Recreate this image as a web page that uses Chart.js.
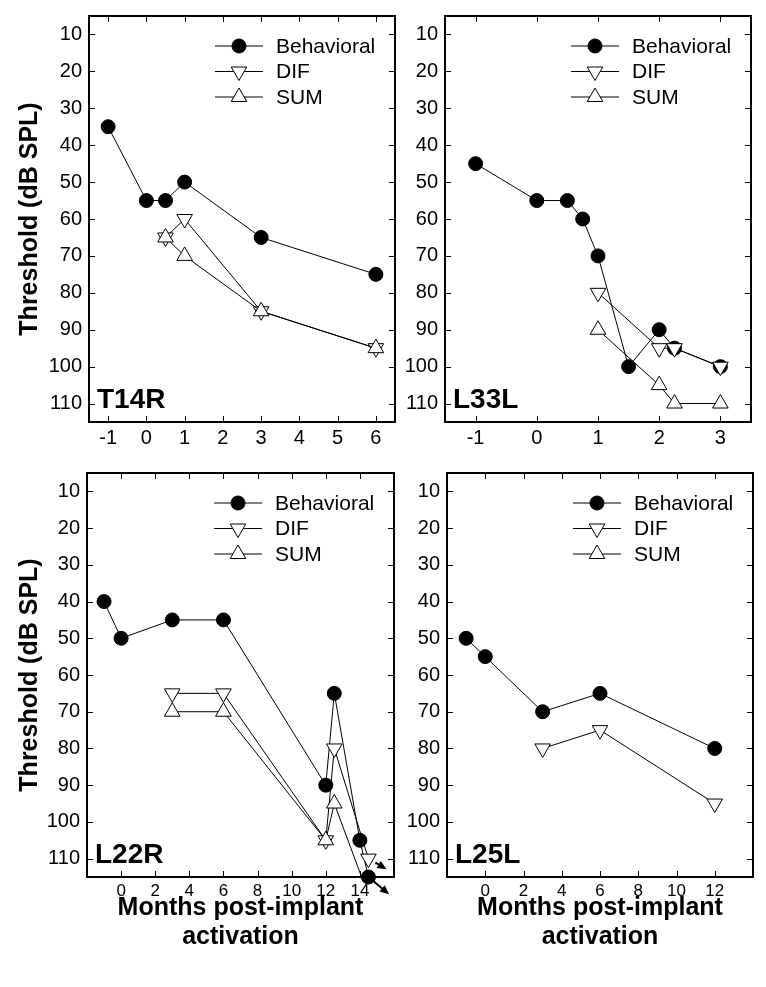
<!DOCTYPE html>
<html>
<head>
<meta charset="utf-8">
<script src="https://cdn.jsdelivr.net/npm/chart.js@4.4.1/dist/chart.umd.min.js"></script>
<style>
  html, body { margin: 0; padding: 0; background: #fff; }
  #wrap { position: relative; width: 766px; height: 987px; }
  .panel { position: absolute; }
</style>
</head>
<body>
<div id="wrap">
  <div class="panel" style="left:0;top:0;width:400px;height:450px"><canvas id="c1"></canvas></div>
  <div class="panel" style="left:395px;top:0;width:371px;height:450px"><canvas id="c2"></canvas></div>
  <div class="panel" style="left:0;top:450px;width:400px;height:537px"><canvas id="c3"></canvas></div>
  <div class="panel" style="left:395px;top:450px;width:371px;height:537px"><canvas id="c4"></canvas></div>
</div>
<script>
// --- data ---
const seriesNames = ["Behavioral", "DIF", "SUM"];
const yTicks = [10, 20, 30, 40, 50, 60, 70, 80, 90, 100, 110];

// T14R
const t14rXTicks = [-1, 0, 1, 2, 3, 4, 5, 6];
const t14rBehavMonths = [-1, 0, 0.5, 1, 3, 6];
const t14rBehav = [35, 55, 55, 50, 65, 75];
const t14rDifMonths = [0.5, 1, 3, 6];
const t14rDif = [65, 60, 85, 95];
const t14rSumMonths = [0.5, 1, 3, 6];
const t14rSum = [65, 70, 85, 95];

// L33L
const l33lXTicks = [-1, 0, 1, 2, 3];
const l33lBehavMonths = [-1, 0, 0.5, 0.75, 1, 1.5, 2, 2.25, 3];
const l33lBehav = [45, 55, 55, 60, 70, 100, 90, 95, 100];
const l33lDifMonths = [1, 2, 2.25, 3];
const l33lDif = [80, 95, 95, 100];
const l33lSumMonths = [1, 2, 2.25, 3];
const l33lSum = [90, 105, 110, 110];

// L22R (last points fall off the scale -> arrows)
const l22rXTicks = [0, 2, 4, 6, 8, 10, 12, 14];
const l22rBehavMonths = [-1, 0, 3, 6, 12, 12.5, 14, 14.5];
const l22rBehav = [40, 50, 45, 45, 90, 65, 105, 115];
const l22rDifMonths = [3, 6, 12, 12.5, 14.5];
const l22rDif = [65, 65, 105, 80, 110];
const l22rSumMonths = [3, 6, 12, 12.5, 14.5];
const l22rSum = [70, 70, 105, 95, 120];

// L25L
const l25lXTicks = [0, 2, 4, 6, 8, 10, 12];
const l25lBehavMonths = [-1, 0, 3, 6, 12];
const l25lBehav = [50, 55, 70, 65, 80];
const l25lDifMonths = [3, 6, 12];
const l25lDif = [80, 75, 95];
const l25lSumMonths = [];
const l25lSum = [];

const FONT = "'Liberation Sans', Arial, sans-serif";

function pts(xs, ys) {
  return xs.map((x, i) => ({ x: x, y: ys[i] }));
}

// marker styles per series
const markerStyle = [
  { pointStyle: "circle", rotation: 0, radius: 7, fill: "#000" },
  { pointStyle: "triangle", rotation: 180, radius: 9, fill: "#fff" },
  { pointStyle: "triangle", rotation: 0, radius: 9, fill: "#fff" }
];

function drawMarker(ctx, m, x, y) {
  ctx.fillStyle = m.fill;
  ctx.strokeStyle = "#000";
  ctx.lineWidth = 1;
  ctx.beginPath();
  if (m.pointStyle === "circle") {
    ctx.arc(x, y, m.radius, 0, Math.PI * 2);
  } else {
    let rad = m.rotation * Math.PI / 180;
    for (let k = 0; k < 3; k++) {
      const px = x + Math.sin(rad) * m.radius;
      const py = y - Math.cos(rad) * m.radius;
      if (k === 0) ctx.moveTo(px, py); else ctx.lineTo(px, py);
      rad += Math.PI * 2 / 3;
    }
    ctx.closePath();
  }
  ctx.fill();
  ctx.stroke();
}

function makeChart(id, p) {
  const datasets = p.series.map((s, i) => ({
    label: seriesNames[i],
    data: pts(s[0], s[1]),
    borderColor: "#000",
    borderWidth: 1,
    backgroundColor: markerStyle[i].fill,
    pointBackgroundColor: markerStyle[i].fill,
    pointBorderColor: "#000",
    pointBorderWidth: 1,
    pointStyle: markerStyle[i].pointStyle,
    pointRotation: markerStyle[i].rotation,
    pointRadius: markerStyle[i].radius,
    tension: 0,
    order: 3 - i,
    clip: p.clips ? p.clips[i] : undefined
  }));

  // box + inward ticks on all four sides
  const frame = {
    id: "frame",
    beforeDatasetsDraw(chart) {
      const { ctx, chartArea: a, scales } = chart;
      ctx.save();
      ctx.strokeStyle = "#000";
      ctx.lineWidth = 1;
      ctx.beginPath();
      scales.x.ticks.forEach(t => {
        const px = Math.round(scales.x.getPixelForValue(t.value)) + 0.5;
        ctx.moveTo(px, a.bottom); ctx.lineTo(px, a.bottom - 6);
        ctx.moveTo(px, a.top); ctx.lineTo(px, a.top + 6);
      });
      scales.y.ticks.forEach(t => {
        const py = Math.round(scales.y.getPixelForValue(t.value)) + 0.5;
        ctx.moveTo(a.left, py); ctx.lineTo(a.left + 6, py);
        ctx.moveTo(a.right, py); ctx.lineTo(a.right - 6, py);
      });
      ctx.stroke();
      ctx.lineWidth = 2;
      ctx.strokeRect(a.left, a.top, a.right - a.left, a.bottom - a.top);
      ctx.restore();
    }
  };

  // legend inside the plot, top right + subject label
  const inset = {
    id: "inset",
    afterDatasetsDraw(chart) {
      const { ctx, chartArea: a } = chart;
      ctx.save();
      seriesNames.forEach((name, i) => {
        const y = a.top + 30 + i * 25.5;
        const x0 = a.right - 180;
        ctx.strokeStyle = "#000";
        ctx.lineWidth = 1;
        ctx.beginPath();
        ctx.moveTo(x0, y); ctx.lineTo(x0 + 48, y);
        ctx.stroke();
        drawMarker(ctx, markerStyle[i], x0 + 24, y);
        ctx.fillStyle = "#000";
        ctx.font = "21px " + FONT;
        ctx.textBaseline = "middle";
        ctx.textAlign = "left";
        ctx.fillText(name, a.right - 119, y + 1);
      });
      ctx.font = "bold 28px " + FONT;
      ctx.textBaseline = "alphabetic";
      ctx.fillText(p.name, a.left + 8, a.bottom - 14);
      ctx.restore();
    }
  };

  // arrows for points off the scale
  const arrows = {
    id: "arrows",
    afterDatasetsDraw(chart) {
      const { ctx } = chart;
      (p.arrows || []).forEach(ar => {
        const meta = chart.getDatasetMeta(ar.series);
        const pt = meta.data[meta.data.length - 1];
        const ang = ar.angle * Math.PI / 180;
        const r0 = markerStyle[ar.series].radius - 1;
        const xs = pt.x + Math.cos(ang) * r0, ys = pt.y + Math.sin(ang) * r0;
        const xe = pt.x + Math.cos(ang) * ar.len, ye = pt.y + Math.sin(ang) * ar.len;
        ctx.save();
        ctx.strokeStyle = "#000";
        ctx.fillStyle = "#000";
        ctx.lineWidth = 2;
        ctx.beginPath();
        ctx.moveTo(xs, ys); ctx.lineTo(xe - Math.cos(ang) * 4, ye - Math.sin(ang) * 4);
        ctx.stroke();
        const h = 10, w = 0.42;
        ctx.beginPath();
        ctx.moveTo(xe, ye);
        ctx.lineTo(xe - Math.cos(ang - w) * h, ye - Math.sin(ang - w) * h);
        ctx.lineTo(xe - Math.cos(ang + w) * h, ye - Math.sin(ang + w) * h);
        ctx.closePath();
        ctx.fill();
        ctx.restore();
      });
    }
  };

  return new Chart(document.getElementById(id).getContext("2d"), {
    type: "line",
    data: { datasets: datasets },
    plugins: [frame, inset, arrows],
    options: {
      responsive: true,
      maintainAspectRatio: false,
      animation: false,
      events: [],
      layout: {
        autoPadding: false,
        padding: { top: p.padTop, right: p.padRight, left: 0, bottom: 0 }
      },
      plugins: { legend: { display: false }, tooltip: { enabled: false } },
      scales: {
        x: {
          type: "linear",
          min: p.xMin,
          max: p.xMax,
          afterBuildTicks: s => { s.ticks = p.xTicks.map(v => ({ value: v })); },
          afterFit: s => { s.height = p.xAxisHeight; s.paddingLeft = 0; s.paddingRight = 0; },
          grid: { display: false, drawTicks: false },
          border: { display: false },
          ticks: {
            color: "#000",
            padding: 4,
            maxRotation: 0,
            autoSkip: false,
            font: { family: FONT, size: p.bottomRow ? 17 : 20 }
          },
          title: {
            display: p.bottomRow,
            text: ["Months post-implant", "activation"],
            color: "#000",
            font: { family: FONT, size: 25, weight: "bold", lineHeight: 1.14 },
            padding: { top: 0, bottom: 36 }
          }
        },
        y: {
          type: "linear",
          reverse: true,
          min: 5,
          max: 115,
          afterBuildTicks: s => { s.ticks = yTicks.map(v => ({ value: v })); },
          afterFit: s => { s.width = p.yAxisWidth; s.paddingTop = 0; s.paddingBottom = 0; },
          grid: { display: false, drawTicks: false },
          border: { display: false },
          ticks: { color: "#000", padding: 7, font: { family: FONT, size: 20 } },
          title: {
            display: p.leftCol,
            text: "Threshold (dB SPL)",
            color: "#000",
            font: { family: FONT, size: 25, weight: "bold", lineHeight: 1.2 },
            padding: { top: 15, bottom: 0 }
          }
        }
      }
    }
  });
}

makeChart("c1", {
  name: "T14R",
  series: [[t14rBehavMonths, t14rBehav], [t14rDifMonths, t14rDif], [t14rSumMonths, t14rSum]],
  xMin: -1.5, xMax: 6.5, xTicks: t14rXTicks,
  yAxisWidth: 89, xAxisHeight: 28, padTop: 16, padRight: 5,
  leftCol: true, bottomRow: false
});

makeChart("c2", {
  name: "L33L",
  series: [[l33lBehavMonths, l33lBehav], [l33lDifMonths, l33lDif], [l33lSumMonths, l33lSum]],
  xMin: -1.5, xMax: 3.5, xTicks: l33lXTicks,
  yAxisWidth: 50, xAxisHeight: 28, padTop: 16, padRight: 15,
  leftCol: false, bottomRow: false
});

makeChart("c3", {
  name: "L22R",
  series: [[l22rBehavMonths, l22rBehav], [l22rDifMonths, l22rDif], [l22rSumMonths, l22rSum]],
  xMin: -2, xMax: 16, xTicks: l22rXTicks,
  yAxisWidth: 87, xAxisHeight: 110, padTop: 23, padRight: 6,
  leftCol: true, bottomRow: true,
  clips: [false, undefined, 0],
  arrows: [{ series: 0, angle: 40, len: 27 }, { series: 1, angle: 30, len: 21 }]
});

makeChart("c4", {
  name: "L25L",
  series: [[l25lBehavMonths, l25lBehav], [l25lDifMonths, l25lDif], [l25lSumMonths, l25lSum]],
  xMin: -2, xMax: 14, xTicks: l25lXTicks,
  yAxisWidth: 52, xAxisHeight: 110, padTop: 23, padRight: 13,
  leftCol: false, bottomRow: true
});
</script>
</body>
</html>
